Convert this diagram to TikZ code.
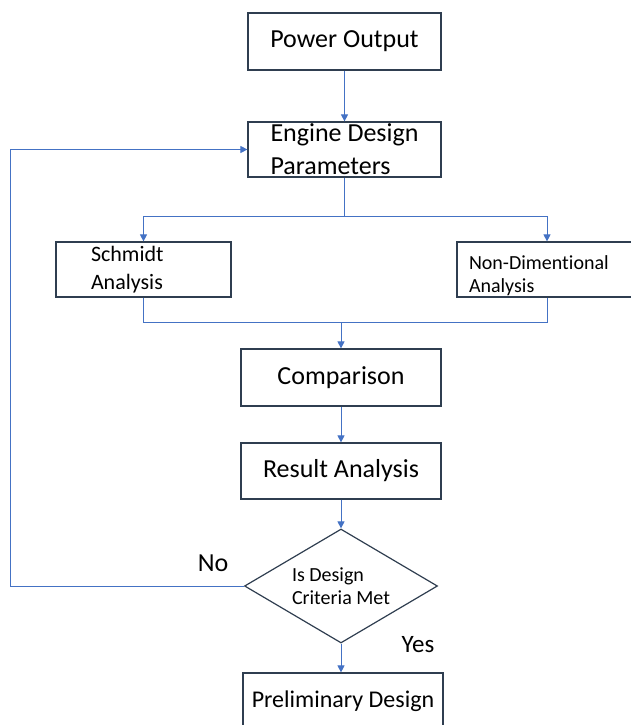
\documentclass[tikz,border=0pt]{standalone}
\usepackage{fontspec}
\setmainfont{Carlito}[Ligatures=NoCommon]
\usetikzlibrary{calc,shapes.geometric,arrows.meta}
\definecolor{flowblue}{RGB}{68,114,196}
\definecolor{boxline}{RGB}{47,62,80}

\begin{document}
\begin{tikzpicture}[x=1pt, y=-1pt,
    box/.style={draw=boxline, line width=1.2pt, rectangle, inner sep=0pt},
    flow/.style={draw=flowblue, line width=0.9pt},
    arr/.style={flow, -{Triangle[length=7pt,width=7pt]}},
    big/.style={font=\fontsize{26}{33}\selectfont},
    small/.style={font=\fontsize{20}{23}\selectfont}]
    \useasboundingbox (0,0) rectangle (630,725);
    \node[box, big, minimum width=193pt, minimum height=57pt] (power) at (344.5,41.5) {Power Output};
    \node[box, big, minimum width=193pt, minimum height=55pt, align=left] (engine) at (344.5,149.5) {Engine Design\\Parameters};
    \node[box, font=\fontsize{22}{28}\selectfont, minimum width=175pt, minimum height=55pt, text width=105pt, align=left] (schmidt) at (143.5,269.5) {Schmidt\\Analysis};
    \node[box, small, minimum width=180pt, minimum height=55pt, text width=156pt, align=left] (nondim) at (547,269.5) {\rule{0pt}{27pt}Non-Dimentional\\Analysis};
    \node[box, big, minimum width=200pt, minimum height=57pt] (comparison) at (341,377.5) {Comparison};
    \node[box, big, minimum width=200pt, minimum height=56pt] (result) at (341,471) {Result Analysis};
    \node[box, small, diamond, shape aspect=1.7, minimum width=193pt, minimum height=114pt, align=left] (decision) at (341,586) {Is Design\\Criteria Met};
    \node[box, font=\fontsize{24}{29}\selectfont, minimum width=200pt, minimum height=56pt] (prelim) at (343,701) {Preliminary Design};
    \node[big] (no) at (213,563) {No};
    \node[font=\fontsize{25}{30}\selectfont] (yes) at (418,645) {Yes};

    \coordinate (split) at (344.5,216);
    \coordinate (merge) at (341,322);
    \coordinate (back) at (10,149.5);
    \draw[arr] (power) -- (engine);
    \draw[flow] (engine) -- (split);
    \draw[arr] (split) -| (schmidt.north);
    \draw[arr] (split) -| (nondim.north);
    \draw[flow] (schmidt.south) |- (merge);
    \draw[flow] (nondim.south) |- (merge);
    \draw[arr] (merge) -- (comparison);
    \draw[arr] (comparison) -- (result);
    \draw[arr] (result) -- (decision);
    \draw[arr] (decision.south) -- (decision.south |- prelim.north);
    \draw[arr] (decision.west) -| (back) -- (engine.west);
\end{tikzpicture}
\end{document}
